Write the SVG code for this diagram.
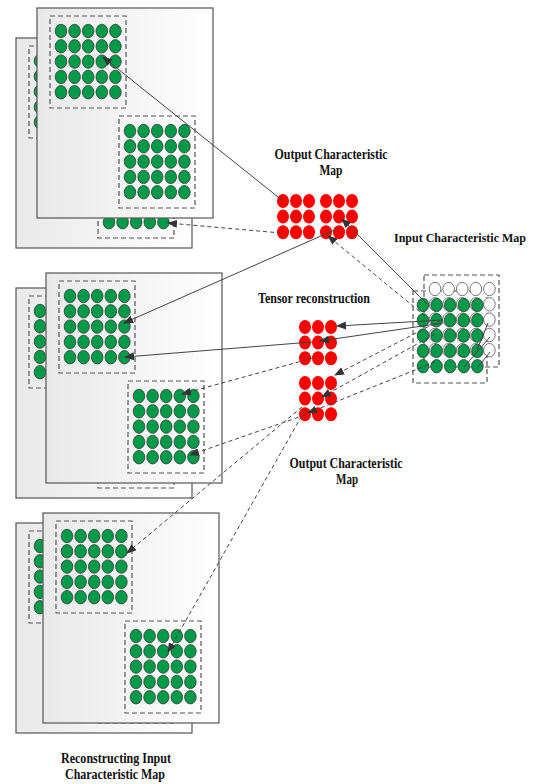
<svg xmlns="http://www.w3.org/2000/svg" width="536" height="784" viewBox="0 0 536 784">
  <style>
    .page { fill: url(#pg); stroke: #555; stroke-width: 1.2; }
    .box { fill: none; stroke: #555; stroke-width: 1.2; stroke-dasharray: 5 3; }
    .g { fill: #009a48; stroke: #3a3a3a; stroke-width: 0.8; }
    .w { fill: #ffffff; stroke: #555; stroke-width: 0.8; }
    .r { fill: #ff0000; }
    .ln { fill: none; stroke: #444; stroke-width: 1; marker-end: url(#ah); }
    .dl { fill: none; stroke: #444; stroke-width: 1; stroke-dasharray: 4 3; marker-end: url(#ah); }
    .thin { fill: none; stroke: #444; stroke-width: 1; }
    .lbl { font-family: "Liberation Serif", "Times New Roman", serif; font-weight: bold; font-size: 14px; fill: #111; text-anchor: middle; }
  </style>
  <defs>
    <linearGradient id="pg" x1="0" y1="0" x2="1" y2="0">
      <stop offset="0" stop-color="#e9e9e9"/>
      <stop offset="1" stop-color="#ffffff"/>
    </linearGradient>
    <marker id="ah" viewBox="0 0 10 8" refX="9" refY="4" markerWidth="10" markerHeight="8" markerUnits="userSpaceOnUse" orient="auto">
      <path d="M0,0 L10,4 L0,8 Z" fill="#333"/>
    </marker>
    <!-- 5x5 grid of feature cells -->
    <g id="grid">
      <ellipse cx="0" cy="0" rx="5.8" ry="6.7"/><ellipse cx="13.6" cy="0" rx="5.8" ry="6.7"/><ellipse cx="27.2" cy="0" rx="5.8" ry="6.7"/><ellipse cx="40.8" cy="0" rx="5.8" ry="6.7"/><ellipse cx="54.4" cy="0" rx="5.8" ry="6.7"/>
      <ellipse cx="0" cy="15.3" rx="5.8" ry="6.7"/><ellipse cx="13.6" cy="15.3" rx="5.8" ry="6.7"/><ellipse cx="27.2" cy="15.3" rx="5.8" ry="6.7"/><ellipse cx="40.8" cy="15.3" rx="5.8" ry="6.7"/><ellipse cx="54.4" cy="15.3" rx="5.8" ry="6.7"/>
      <ellipse cx="0" cy="30.6" rx="5.8" ry="6.7"/><ellipse cx="13.6" cy="30.6" rx="5.8" ry="6.7"/><ellipse cx="27.2" cy="30.6" rx="5.8" ry="6.7"/><ellipse cx="40.8" cy="30.6" rx="5.8" ry="6.7"/><ellipse cx="54.4" cy="30.6" rx="5.8" ry="6.7"/>
      <ellipse cx="0" cy="45.9" rx="5.8" ry="6.7"/><ellipse cx="13.6" cy="45.9" rx="5.8" ry="6.7"/><ellipse cx="27.2" cy="45.9" rx="5.8" ry="6.7"/><ellipse cx="40.8" cy="45.9" rx="5.8" ry="6.7"/><ellipse cx="54.4" cy="45.9" rx="5.8" ry="6.7"/>
      <ellipse cx="0" cy="61.2" rx="5.8" ry="6.7"/><ellipse cx="13.6" cy="61.2" rx="5.8" ry="6.7"/><ellipse cx="27.2" cy="61.2" rx="5.8" ry="6.7"/><ellipse cx="40.8" cy="61.2" rx="5.8" ry="6.7"/><ellipse cx="54.4" cy="61.2" rx="5.8" ry="6.7"/>
    </g>
    <!-- 3x3 block of output cells -->
    <g id="rgrid">
      <ellipse cx="0" cy="0" rx="6" ry="7"/><ellipse cx="13" cy="0" rx="6" ry="7"/><ellipse cx="26" cy="0" rx="6" ry="7"/>
      <ellipse cx="0" cy="15.6" rx="6" ry="7"/><ellipse cx="13" cy="15.6" rx="6" ry="7"/><ellipse cx="26" cy="15.6" rx="6" ry="7"/>
      <ellipse cx="0" cy="31.2" rx="6" ry="7"/><ellipse cx="13" cy="31.2" rx="6" ry="7"/><ellipse cx="26" cy="31.2" rx="6" ry="7"/>
    </g>
    <!-- one sheet: page with two dashed windows of cells -->
    <g id="sheet">
      <rect class="page" x="0" y="0" width="176" height="210"/>
      <rect class="box" x="13" y="8" width="76" height="92"/>
      <use href="#grid" class="g" x="24" y="23"/>
      <rect class="box" x="82" y="108" width="76" height="92"/>
      <use href="#grid" class="g" x="93" y="123"/>
    </g>
  </defs>

  <rect width="536" height="784" fill="#ffffff"/>

  <!-- reconstructed maps, top -->
  <g id="stack-top">
    <use href="#sheet" x="16" y="38"/>
    <use href="#sheet" x="37" y="8"/>
  </g>

  <!-- reconstructed maps, middle -->
  <g id="stack-middle">
    <use href="#sheet" x="16" y="288"/>
    <use href="#sheet" x="46" y="273"/>
  </g>

  <!-- reconstructed maps, bottom -->
  <g id="stack-bottom">
    <use href="#sheet" x="16" y="523"/>
    <use href="#sheet" x="43" y="513"/>
  </g>

  <!-- output map, upper -->
  <g id="output-top">
    <use href="#rgrid" class="r" x="283" y="201"/>
    <use href="#rgrid" class="r" x="326" y="201"/>
    <text class="lbl" x="331" y="159" textLength="113" lengthAdjust="spacingAndGlyphs">Output Characteristic</text>
    <text class="lbl" x="331" y="175" textLength="23" lengthAdjust="spacingAndGlyphs">Map</text>
  </g>

  <!-- tensor reconstruction blocks -->
  <g id="tensor">
    <text class="lbl" x="314" y="303" textLength="112" lengthAdjust="spacingAndGlyphs">Tensor reconstruction</text>
    <use href="#rgrid" class="r" x="305" y="327"/>
    <use href="#rgrid" class="r" x="305" y="383"/>
  </g>

  <!-- output map label, lower -->
  <g id="output-bottom">
    <text class="lbl" x="346" y="468" textLength="113" lengthAdjust="spacingAndGlyphs">Output Characteristic</text>
    <text class="lbl" x="347" y="484" textLength="22" lengthAdjust="spacingAndGlyphs">Map</text>
  </g>

  <!-- input feature map -->
  <g id="input">
    <rect class="box" x="424" y="275" width="75" height="92"/>
    <rect class="box" x="413" y="291" width="74" height="92"/>
    <use href="#grid" class="w" x="435" y="289"/>
    <use href="#grid" class="g" x="423" y="305"/>
    <line class="thin" x1="488" y1="323" x2="477" y2="350"/>
    <line class="thin" x1="490" y1="337" x2="464" y2="367"/>
    <line class="thin" x1="490" y1="352" x2="478" y2="367"/>
    <text class="lbl" x="460" y="242" style="font-size:12px">Input Characteristic Map</text>
  </g>

  <g id="caption">
    <text class="lbl" x="116" y="763" textLength="110" lengthAdjust="spacingAndGlyphs">Reconstructing Input</text>
    <text class="lbl" x="115" y="779" textLength="100" lengthAdjust="spacingAndGlyphs">Characteristic Map</text>
  </g>

  <!-- connectors -->
  <g id="connectors">
    <line class="ln" x1="427" y1="304" x2="342" y2="219"/>
    <line class="ln" x1="443" y1="320" x2="337" y2="326"/>
    <line class="ln" x1="443" y1="323" x2="320" y2="341"/>
    <line class="ln" x1="283" y1="201" x2="103" y2="57"/>
    <line class="ln" x1="339" y1="228" x2="124" y2="323"/>
    <line class="ln" x1="312" y1="342" x2="125" y2="357"/>

    <line class="dl" x1="425" y1="316" x2="328" y2="236"/>
    <line class="dl" x1="441" y1="320" x2="335" y2="375"/>
    <line class="dl" x1="435" y1="334" x2="322" y2="397"/>
    <line class="dl" x1="435" y1="362" x2="308" y2="413"/>

    <line class="dl" x1="281" y1="233" x2="168" y2="223"/>
    <line class="dl" x1="313" y1="358" x2="182" y2="394"/>
    <line class="dl" x1="305" y1="415" x2="190" y2="455"/>
    <line class="dl" x1="302" y1="407" x2="127" y2="553"/>
    <line class="dl" x1="305" y1="410" x2="168" y2="652"/>
  </g>
</svg>
